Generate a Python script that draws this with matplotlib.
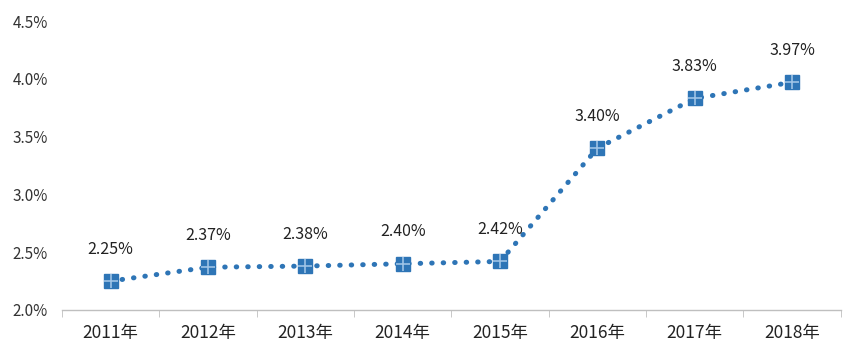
import matplotlib.pyplot as plt
import numpy as np
from matplotlib.ticker import FuncFormatter

plt.rcParams['font.family'] = ['Noto Sans CJK SC', 'DejaVu Sans']

years = ["2011年", "2012年", "2013年", "2014年", "2015年", "2016年", "2017年", "2018年"]
rates = [2.25, 2.37, 2.38, 2.40, 2.42, 3.40, 3.83, 3.97]
labels = ["2.25%", "2.37%", "2.38%", "2.40%", "2.42%", "3.40%", "3.83%", "3.97%"]

blue = "#2E75B6"
x = np.arange(len(years))

fig, ax = plt.subplots(figsize=(8.65, 3.59), dpi=100)
fig.subplots_adjust(left=0.0717, right=0.972, bottom=0.1365, top=0.9415)

ax.plot(x, rates, linestyle=(0, (0.1, 2.2)), dash_capstyle="round", color=blue,
        linewidth=3.6, zorder=2)
ax.plot(x, rates, linestyle="none", marker="s", markersize=10.5, color=blue, zorder=3)
ax.plot(x, rates, linestyle="none", marker="+", markersize=10, markeredgewidth=1.2,
        color="#9DC3E6", zorder=4)

for xi, yi, lab in zip(x, rates, labels):
    ax.annotate(lab, (xi, yi), xytext=(0, 23), textcoords="offset points",
                ha="center", va="center", fontsize=11.5, color="#222222")

ax.set_xlim(-0.5, len(years) - 0.5)
ax.set_ylim(2.0, 4.5)
ax.set_yticks(np.arange(2.0, 4.51, 0.5))
ax.yaxis.set_major_formatter(FuncFormatter(lambda v, p: f"{v:.1f}%"))
ax.set_xticks(x)
ax.set_xticklabels(years)
ax.set_xticks(np.arange(-0.5, len(years), 1), minor=True)
ax.tick_params(axis="x", which="major", length=0, pad=10, labelsize=12.5, labelcolor="#222222")
ax.tick_params(axis="x", which="minor", length=5, color="#BFBFBF", direction="out")
ax.tick_params(axis="y", length=0, pad=10, labelsize=11, labelcolor="#333333")

for s in ["top", "right", "left"]:
    ax.spines[s].set_visible(False)
ax.spines["bottom"].set_color("#BFBFBF")
ax.spines["bottom"].set_linewidth(1)

plt.savefig("out.png", dpi=100)
